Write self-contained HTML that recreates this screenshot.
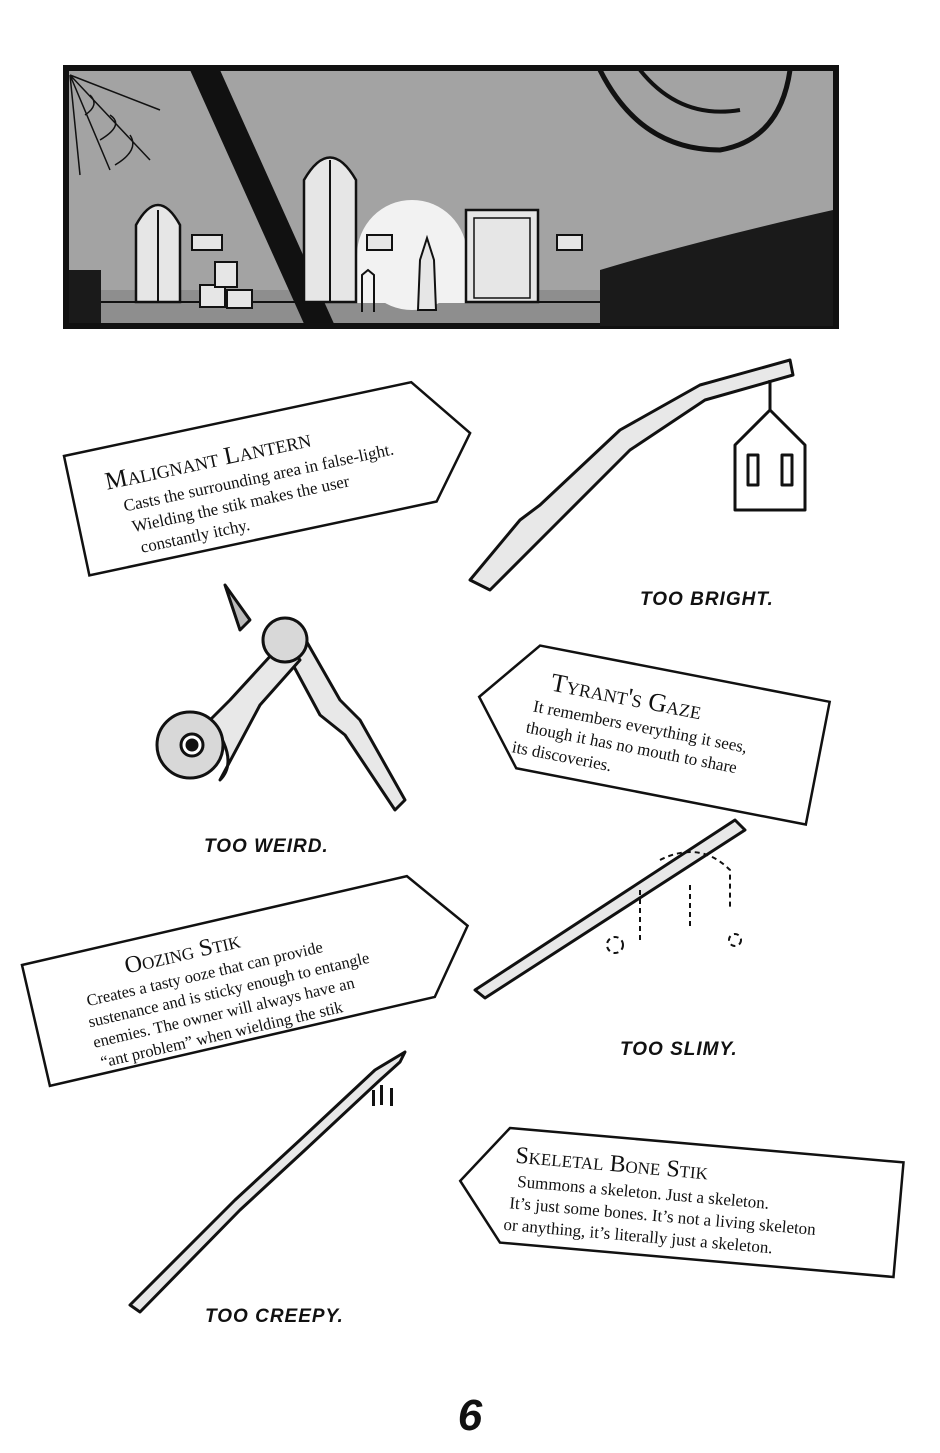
<!DOCTYPE html>
<html><head><meta charset="utf-8"><style>
html,body{margin:0;padding:0;background:#fff;}
svg{display:block}
.t{font-family:"Liberation Serif",serif;fill:#111}
.cap{font-family:"Liberation Sans",sans-serif;font-weight:bold;font-style:italic;font-size:19px;fill:#111;letter-spacing:1px}
</style></head><body>
<svg width="940" height="1453" viewBox="0 0 940 1453" xmlns="http://www.w3.org/2000/svg">
<rect x="66" y="68" width="770" height="258" fill="#a3a3a3" stroke="#111" stroke-width="6"/>
<rect x="69" y="290" width="764" height="33" fill="#8e8e8e"/>
<line x1="69" y1="302" x2="600" y2="302" stroke="#111" stroke-width="2"/>
<circle cx="412" cy="255" r="55" fill="#f2f2f2"/>
<rect x="357" y="255" width="110" height="48" fill="#f2f2f2"/>
<path d="M600 326 L600 270 Q700 240 833 210 L833 326 Z" fill="#1a1a1a"/>
<rect x="69" y="270" width="32" height="53" fill="#1a1a1a"/>
<path d="M190 70 L220 70 L335 326 L305 326 Z" fill="#111"/>
<path d="M600 70 Q640 150 720 150 Q780 140 790 70" fill="none" stroke="#111" stroke-width="5"/>
<path d="M640 70 Q680 120 740 110" fill="none" stroke="#111" stroke-width="4"/>
<g stroke="#111" stroke-width="1.5" fill="none"><path d="M70 75 L150 160 M70 75 L110 170 M70 75 L160 110 M70 75 L80 175"/>
<path d="M90 95 Q100 105 85 115 M110 115 Q125 125 100 140 M130 135 Q140 150 115 165"/></g>
<path d="M136 302 L136 225 Q158 185 180 225 L180 302 Z" fill="#e6e6e6" stroke="#111" stroke-width="2.5"/>
<line x1="158" y1="210" x2="158" y2="302" stroke="#111" stroke-width="2"/>
<path d="M304 302 L304 180 Q330 135 356 180 L356 302 Z" fill="#e6e6e6" stroke="#111" stroke-width="2.5"/>
<line x1="330" y1="160" x2="330" y2="302" stroke="#111" stroke-width="2"/>
<rect x="466" y="210" width="72" height="92" fill="#e6e6e6" stroke="#111" stroke-width="2.5"/>
<rect x="474" y="218" width="56" height="80" fill="none" stroke="#111" stroke-width="1.5"/>
<g fill="#e6e6e6" stroke="#111" stroke-width="2"><rect x="200" y="285" width="25" height="22"/><rect x="215" y="262" width="22" height="25"/><rect x="227" y="290" width="25" height="18"/><rect x="192" y="235" width="30" height="15"/><rect x="367" y="235" width="25" height="15"/><rect x="557" y="235" width="25" height="15"/></g>
<path d="M418 310 L420 260 L427 238 L434 260 L436 310 Z" fill="#e6e6e6" stroke="#111" stroke-width="2"/>
<path d="M362 312 L362 275 L368 270 L374 275 L374 312" fill="none" stroke="#111" stroke-width="2"/>

<!-- sticks first (under tags) -->
<g stroke="#111" stroke-width="3" fill="#e8e8e8" stroke-linejoin="round">
<path d="M470 580 L520 520 L540 505 L620 430 L700 385 L790 360 L793 375 L705 400 L630 450 L560 520 L490 590 Z"/>
<path d="M735 445 L770 410 L805 445 L805 510 L735 510 Z" fill="#fff"/>
<line x1="770" y1="380" x2="770" y2="410"/>
<rect x="748" y="455" width="10" height="30" fill="#fff"/><rect x="782" y="455" width="10" height="30" fill="#fff"/>
<path d="M300 630 L340 700 L360 720 L405 800 L395 810 L345 735 L320 715 L285 650 Z"/>
<path d="M285 640 L230 700 L210 720 Q240 760 220 780 L260 705 L300 660 Z"/>
<circle cx="190" cy="745" r="33" fill="#d8d8d8"/>
<circle cx="192" cy="745" r="11" fill="#fff"/><circle cx="192" cy="745" r="5" fill="#111"/>
<circle cx="285" cy="640" r="22" fill="#d8d8d8"/>
<path d="M225 585 L250 620 L240 630 Z" fill="#bbb"/>
<path d="M475 990 L735 820 L745 830 L485 998 Z"/>
<g stroke-dasharray="5 4" stroke-width="2" fill="none"><path d="M660 860 Q700 840 730 870 L730 910 M690 885 L690 930 M640 890 L640 940"/><circle cx="615" cy="945" r="8"/><circle cx="735" cy="940" r="6"/></g>
<path d="M130 1305 L235 1200 L300 1140 L375 1070 L405 1052 L400 1062 L380 1080 L305 1150 L240 1210 L140 1312 Z"/>
</g>
<g fill="#111"><rect x="380" y="1085" width="3" height="20"/><rect x="390" y="1088" width="3" height="18"/><rect x="372" y="1090" width="3" height="16"/></g>

<!-- tag 1 -->
<g transform="translate(64,456) rotate(-12)">
<polygon points="0,0 355,0 402,62 355,122 0,122" fill="#fff" stroke="#111" stroke-width="2.5"/>
<text class="t" x="35" y="42" font-size="25" style="font-variant:small-caps">Malignant Lantern</text>
<text class="t" x="48" y="67" font-size="17">Casts the surrounding area in false-light.</text>
<text class="t" x="52" y="89" font-size="17">Wielding the stik makes the user</text>
<text class="t" x="56" y="111" font-size="17">constantly itchy.</text>
</g>
<!-- tag 2 -->
<g transform="translate(491,636) rotate(11)">
<polygon points="50,0 345,0 345,125 50,125 0,62" fill="#fff" stroke="#111" stroke-width="2.5"/>
<text class="t" x="68" y="42" font-size="26" style="font-variant:small-caps">Tyrant's Gaze</text>
<text class="t" x="55" y="66" font-size="17">It remembers everything it sees,</text>
<text class="t" x="52" y="88" font-size="17">though it has no mouth to share</text>
<text class="t" x="42" y="110" font-size="17">its discoveries.</text>
</g>
<!-- tag 3 -->
<g transform="translate(22,965) rotate(-13)">
<polygon points="0,0 395,0 443,62 395,124 0,124" fill="#fff" stroke="#111" stroke-width="2.5"/>
<text class="t" x="100" y="32" font-size="24" style="font-variant:small-caps">Oozing Stik</text>
<text class="t" x="55" y="55" font-size="16.5">Creates a tasty ooze that can provide</text>
<text class="t" x="52" y="76" font-size="16.5">sustenance and is sticky enough to entangle</text>
<text class="t" x="52" y="97" font-size="16.5">enemies. The owner will always have an</text>
<text class="t" x="55" y="118" font-size="16.5">“ant problem” when wielding the stik</text>
</g>
<!-- tag 4 -->
<g transform="translate(510,1128) rotate(5)">
<polygon points="0,0 395,0 395,115 0,115 -45,57" fill="#fff" stroke="#111" stroke-width="2.5"/>
<text class="t" x="8" y="34" font-size="24" style="font-variant:small-caps">Skeletal Bone Stik</text>
<text class="t" x="12" y="58" font-size="17">Summons a skeleton. Just a skeleton.</text>
<text class="t" x="6" y="80" font-size="17">It’s just some bones. It’s not a living skeleton</text>
<text class="t" x="2" y="102" font-size="17">or anything, it’s literally just a skeleton.</text>
</g>

<text class="cap" x="640" y="605">TOO BRIGHT.</text>
<text class="cap" x="204" y="852">TOO WEIRD.</text>
<text class="cap" x="620" y="1055">TOO SLIMY.</text>
<text class="cap" x="205" y="1322">TOO CREEPY.</text>
<text x="470" y="1430" text-anchor="middle" font-family="Liberation Sans,sans-serif" font-weight="bold" font-style="italic" font-size="44" fill="#111">6</text>
</svg>
</body></html>
